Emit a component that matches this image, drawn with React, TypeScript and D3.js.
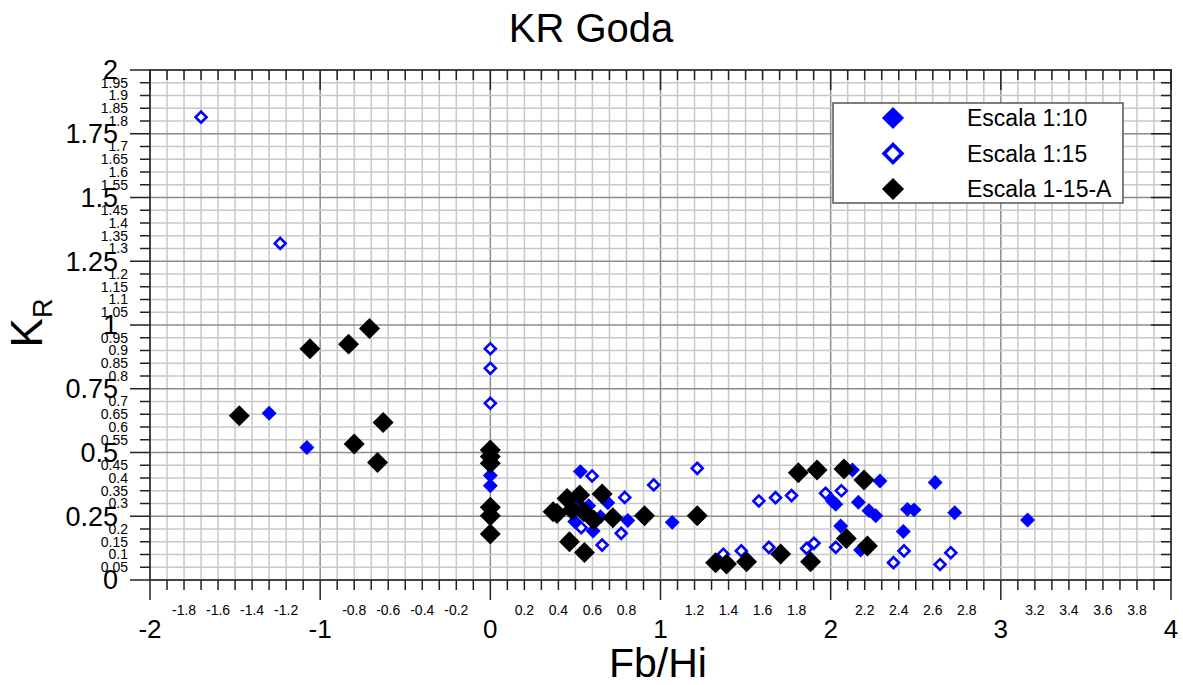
import React from 'react'
import * as d3 from "d3";

// Escala 1:10 (filled blue), Escala 1:15 (hollow blue), Escala 1-15-A (black)
const esc10X = [-1.30, -1.078, 0, 0, 0.529, 0.69, 0.578, 0.494, 0.808, 1.069, 0.496, 0.647, 0.604,
  2.128, 2.29, 2.614, 2.01, 2.03, 2.163, 2.225, 2.265, 2.451, 2.49, 2.729, 2.059, 2.427, 2.176, 3.157]
const esc10Y = [0.654, 0.52, 0.41, 0.37, 0.425, 0.303, 0.291, 0.30, 0.233, 0.226, 0.229, 0.248, 0.192,
  0.431, 0.388, 0.382, 0.31, 0.297, 0.305, 0.272, 0.252, 0.277, 0.275, 0.264, 0.212, 0.19, 0.118, 0.235]

const esc15X = [-1.70, -1.235, 0, 0, 0, 0.598, 0.96, 1.216, 0.79, 0.534, 0.769, 0.657,
  1.578, 1.676, 1.77, 1.97, 2.063, 2.03, 1.902, 1.859, 1.637, 1.475, 1.369, 2.369, 2.431, 2.643, 2.706]
const esc15Y = [1.815, 1.32, 0.907, 0.83, 0.693, 0.408, 0.373, 0.438, 0.324, 0.205, 0.183, 0.137,
  0.31, 0.323, 0.331, 0.34, 0.35, 0.128, 0.144, 0.124, 0.128, 0.114, 0.101, 0.068, 0.114, 0.061, 0.107]

const esc15AX = [-1.475, -1.06, -0.833, -0.71, -0.63, -0.80, -0.663, 0, 0, 0, 0, 0, 0,
  0.657, 0.451, 0.525, 0.369, 0.392, 0.48, 0.549, 0.608, 0.72, 0.906, 1.216, 0.465, 0.553, 1.324,
  1.81, 1.92, 2.078, 2.196, 2.092, 2.216, 1.882, 1.706, 1.506, 1.388]
const esc15AY = [0.644, 0.907, 0.925, 0.986, 0.618, 0.533, 0.461, 0.51, 0.484, 0.458, 0.285, 0.252, 0.18,
  0.337, 0.32, 0.333, 0.268, 0.261, 0.275, 0.268, 0.235, 0.244, 0.252, 0.252, 0.15, 0.108, 0.068,
  0.421, 0.431, 0.435, 0.392, 0.163, 0.133, 0.072, 0.102, 0.072, 0.063]

const seriesNames = ["Escala 1:10", "Escala 1:15", "Escala 1-15-A"]

const xMajorTicks = [-2, -1, 0, 1, 2, 3, 4]
const yMajorTicks = [0, 0.25, 0.5, 0.75, 1, 1.25, 1.5, 1.75, 2]

const FONT = "'Liberation Sans', Arial, sans-serif"

function drawChart(svgRef: React.RefObject<SVGSVGElement>) {
  const width = 1183
  const height = 685
  const left = 150, right = 1171, top = 70, bottom = 580

  const x = d3.scaleLinear().domain([-2, 4]).range([left, right])
  const y = d3.scaleLinear().domain([0, 2]).range([bottom, top])

  const xMinor = d3.range(-20, 41).map(i => i / 10)
  const yMinor = d3.range(0, 41).map(i => +(i * 0.05).toFixed(2))
  const isInt = (v: number) => Math.abs(v - Math.round(v)) < 1e-9
  const isQuarter = (v: number) => Math.abs(v * 4 - Math.round(v * 4)) < 1e-9

  const svg = d3.select(svgRef.current)
    .attr("width", width)
    .attr("height", height)
    .attr("viewBox", [0, 0, width, height])
    .attr("font-family", FONT)
  svg.selectAll("*").remove()

  // grid
  const grid = svg.append("g")
  grid.selectAll("line.vx")
    .data(xMinor)
    .join("line")
    .attr("x1", d => x(d)).attr("x2", d => x(d))
    .attr("y1", top).attr("y2", bottom)
    .attr("stroke", d => isInt(d) ? "#8c8c8c" : "#c8c8c8")
    .attr("stroke-width", 1.5)
  grid.selectAll("line.hy")
    .data(yMinor)
    .join("line")
    .attr("y1", d => y(d)).attr("y2", d => y(d))
    .attr("x1", left).attr("x2", right)
    .attr("stroke", d => isQuarter(d) ? "#8c8c8c" : "#c8c8c8")
    .attr("stroke-width", 1.5)

  // frame
  svg.append("rect")
    .attr("x", left).attr("y", top)
    .attr("width", right - left).attr("height", bottom - top)
    .attr("fill", "none").attr("stroke", "#444").attr("stroke-width", 2)

  // bottom ticks (outward)
  svg.append("g").attr("stroke", "#222").attr("stroke-width", 1.5)
    .selectAll("line").data(xMinor).join("line")
    .attr("x1", d => x(d)).attr("x2", d => x(d))
    .attr("y1", bottom).attr("y2", d => bottom + (isInt(d) ? 20 : 10))
  // top ticks (inward)
  svg.append("g").attr("stroke", "#222").attr("stroke-width", 1.5)
    .selectAll("line").data(xMinor).join("line")
    .attr("x1", d => x(d)).attr("x2", d => x(d))
    .attr("y1", top).attr("y2", d => top + (isInt(d) ? 20 : 10))
  // left ticks (outward)
  svg.append("g").attr("stroke", "#222").attr("stroke-width", 1.5)
    .selectAll("line").data(yMinor).join("line")
    .attr("y1", d => y(d)).attr("y2", d => y(d))
    .attr("x1", d => left - (isQuarter(d) ? 20 : 10)).attr("x2", left)
  // right ticks (inward)
  svg.append("g").attr("stroke", "#222").attr("stroke-width", 1.5)
    .selectAll("line").data(yMinor).join("line")
    .attr("y1", d => y(d)).attr("y2", d => y(d))
    .attr("x1", d => right - (isQuarter(d) ? 20 : 10)).attr("x2", right)

  // x labels
  svg.append("g").attr("font-size", 14).attr("text-anchor", "middle")
    .selectAll("text")
    .data(xMinor.filter(d => !isInt(d) && Math.abs(Math.round(d * 10)) % 2 === 0))
    .join("text")
    .attr("x", d => x(d)).attr("y", 615)
    .text(d => String(+d.toFixed(1)))
  svg.append("g").attr("font-size", 26).attr("text-anchor", "middle")
    .selectAll("text")
    .data(xMajorTicks)
    .join("text")
    .attr("x", d => x(d)).attr("y", 638)
    .text(d => String(d))

  // y labels
  svg.append("g").attr("font-size", 14).attr("text-anchor", "end")
    .selectAll("text")
    .data(yMinor.filter(d => !isQuarter(d)))
    .join("text")
    .attr("x", 128).attr("y", d => y(d)).attr("dy", "0.35em")
    .text(d => String(d))
  svg.append("g").attr("font-size", 27).attr("text-anchor", "end")
    .selectAll("text")
    .data(yMajorTicks)
    .join("text")
    .attr("x", 118).attr("y", d => y(d)).attr("dy", "0.35em")
    .text(d => String(d))

  // titles
  svg.append("text")
    .attr("x", 591).attr("y", 42)
    .attr("text-anchor", "middle").attr("font-size", 40)
    .text("KR Goda")
  svg.append("text")
    .attr("x", 658).attr("y", 677)
    .attr("text-anchor", "middle").attr("font-size", 41)
    .text("Fb/Hi")
  const yt = svg.append("text")
    .attr("transform", "translate(42,323) rotate(-90)")
    .attr("text-anchor", "middle")
  yt.append("tspan").attr("font-size", 44).text("K")
  yt.append("tspan").attr("font-size", 27).attr("dy", 10).text("R")

  const sq = (size: number) => d3.symbol(d3.symbolSquare, size)()

  const blue = "#0000ff"
  const pts = svg.append("g")
  pts.append("g").selectAll("path")
    .data(d3.zip(esc10X, esc10Y))
    .join("path")
    .attr("d", sq(112))
    .attr("transform", d => `translate(${x(d[0])},${y(d[1])}) rotate(45)`)
    .attr("fill", blue)
  pts.append("g").selectAll("path")
    .data(d3.zip(esc15X, esc15Y))
    .join("path")
    .attr("d", sq(60))
    .attr("transform", d => `translate(${x(d[0])},${y(d[1])}) rotate(45)`)
    .attr("fill", "#fff").attr("stroke", blue).attr("stroke-width", 2.6)
  pts.append("g").selectAll("path")
    .data(d3.zip(esc15AX, esc15AY))
    .join("path")
    .attr("d", sq(220))
    .attr("transform", d => `translate(${x(d[0])},${y(d[1])}) rotate(45)`)
    .attr("fill", "#000")

  // legend
  const lg = svg.append("g").attr("transform", "translate(833,103)")
  lg.append("rect").attr("width", 290).attr("height", 100)
    .attr("fill", "#fff").attr("stroke", "#555").attr("stroke-width", 1.5)
  const rows = lg.selectAll("g.row").data(seriesNames).join("g")
    .attr("transform", (d, i) => `translate(0,${15 + i * 35.5})`)
  rows.append("path")
    .attr("d", (d, i) => i === 1 ? sq(160) : sq(245))
    .attr("transform", "translate(60,0) rotate(45)")
    .attr("fill", (d, i) => i === 0 ? blue : i === 1 ? "#fff" : "#000")
    .attr("stroke", (d, i) => i === 1 ? blue : "none")
    .attr("stroke-width", 3.6)
  rows.append("text")
    .attr("x", 134).attr("dy", "0.35em")
    .attr("font-size", 23)
    .text(d => d)

  return svg.node()
}

const App: React.FunctionComponent = () => {
  const svg = React.useRef<SVGSVGElement>(null)

  React.useEffect(() => {
    drawChart(svg)
  }, [svg])

  return (
    <div id="chart" style={{ position: "absolute", left: 0, top: 0 }}>
      <svg ref={svg} style={{ display: "block", background: "#fff" }} />
    </div>
  )
}

export default App
